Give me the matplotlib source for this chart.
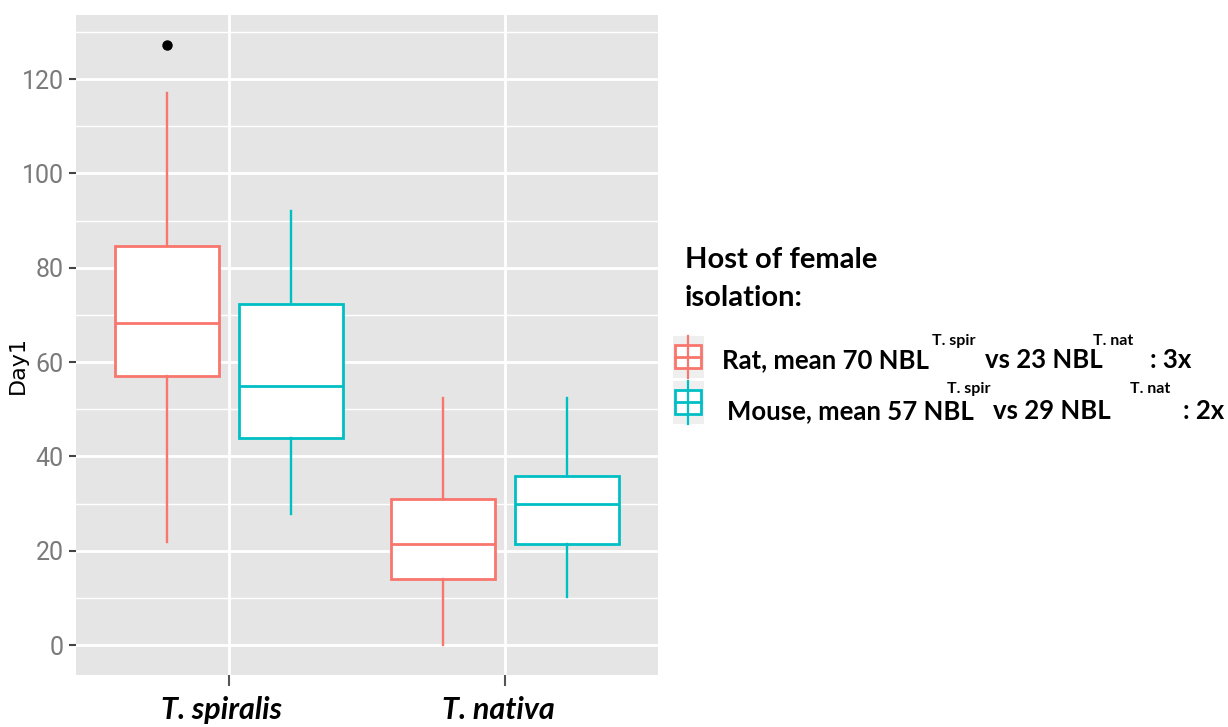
import numpy as np
import matplotlib
matplotlib.use("Agg")
import matplotlib.pyplot as plt
import matplotlib.transforms as mtransforms
from matplotlib.patches import Rectangle
from matplotlib.lines import Line2D

# ---------------- data ----------------
species = ["T. spiralis", "T. nativa"]
hosts = ["Rat", "Mouse"]
rat_whislo = [21.8, 0.0]
rat_q1 = [57.1, 14.0]
rat_med = [68.3, 21.4]
rat_q3 = [84.7, 31.0]
rat_whishi = [117.1, 52.4]
rat_fliers = [[127.2], []]
mouse_whislo = [27.8, 10.2]
mouse_q1 = [43.9, 21.4]
mouse_med = [54.9, 29.9]
mouse_q3 = [72.3, 35.8]
mouse_whishi = [92.0, 52.4]
mouse_fliers = [[], []]
yticks = [0, 20, 40, 60, 80, 100, 120]
legend_title = "Host of female\nisolation:"
rat_label = ["Rat, mean 70 NBL", "T. spir", "vs 23 NBL", "T. nat", ": 3x"]
mouse_label = ["Mouse, mean 57 NBL", "T. spir", "vs 29 NBL", "T. nat", ": 2x"]

RAT = "#F8766D"
MOUSE = "#00BFC4"
W, H = 1228, 727
TXT = ["Lato", "DejaVu Sans"]

fig = plt.figure(figsize=(W / 100, H / 100), dpi=100)
ax = fig.add_axes([76 / W, 1 - 675 / H, (658 - 76) / W, (675 - 15) / H])
ax.set_facecolor("#E5E5E5")

def stats(lo, q1, med, q3, hi, fl):
    return [dict(whislo=a, q1=b, med=c, q3=d, whishi=e, fliers=f)
            for a, b, c, d, e, f in zip(lo, q1, med, q3, hi, fl)]

xpos = np.arange(1, len(species) + 1)
off = 0.225
bw = 0.375
for st, col, sign in [
    (stats(rat_whislo, rat_q1, rat_med, rat_q3, rat_whishi, rat_fliers), RAT, -1),
    (stats(mouse_whislo, mouse_q1, mouse_med, mouse_q3, mouse_whishi, mouse_fliers), MOUSE, 1),
]:
    ax.bxp(st, positions=xpos + sign * off, widths=bw, patch_artist=True,
           showcaps=False, manage_ticks=False,
           boxprops=dict(facecolor="white", edgecolor=col, linewidth=2.0),
           medianprops=dict(color=col, linewidth=2.0),
           whiskerprops=dict(color=col, linewidth=1.7),
           flierprops=dict(marker="o", markerfacecolor="black", markeredgecolor="black",
                           markersize=6.5))

ax.set_xlim(0.446, 2.554)
ax.set_ylim(-6.36, 133.6)
ax.set_yticks(yticks)
ax.set_yticks(np.arange(10, 131, 20), minor=True)
ax.set_xticks(xpos)
ax.grid(True, which="major", color="white", linewidth=2.0)
ax.grid(True, which="minor", axis="y", color="white", linewidth=1.0)
ax.set_axisbelow(True)
for s in ax.spines.values():
    s.set_visible(False)

ax.tick_params(axis="y", which="major", length=5, width=1.5, color="#444444",
               labelcolor="#7a7a7a", labelsize=18, pad=4)
ax.tick_params(axis="y", which="minor", length=0)
ax.tick_params(axis="x", length=8, width=1.5, color="#555555", pad=7)
for lab in ax.get_yticklabels():
    lab.set_family(["Liberation Sans Narrow", "Roboto", "DejaVu Sans"])
ax.set_xticklabels(species, fontsize=22, fontweight="bold", fontstyle="italic",
                   family=TXT, color="black")
shift = mtransforms.ScaledTranslation(-7 / 100, 0, fig.dpi_scale_trans)
for lab in ax.get_xticklabels():
    lab.set_transform(lab.get_transform() + shift)
ax.set_ylabel("Day1", fontsize=16, color="black", family=["DejaVu Sans"])
ax.yaxis.set_label_coords((28 - 76) / 582, (675 - 365) / 660)

# ---------------- legend (annotation drawn in figure pixel space) ----------------
def fx(x):
    return x / W

def fy(y):
    return 1 - y / H

fig.text(fx(685), fy(268), legend_title.split("\n")[0], fontsize=21, fontweight="bold",
         family=TXT, va="baseline")
fig.text(fx(685), fy(306), legend_title.split("\n")[1], fontsize=21, fontweight="bold",
         family=TXT, va="baseline")

def key(ytop, ybot, col):
    fig.add_artist(Rectangle((fx(673), fy(ybot)), fx(704) - fx(673), fy(ytop) - fy(ybot),
                             transform=fig.transFigure, facecolor="#EFEFEF", edgecolor="none"))
    bt = ytop + 9
    bb = ybot - 10
    fig.add_artist(Line2D([fx(688), fx(688)], [fy(ytop), fy(ybot)], transform=fig.transFigure,
                          color=col, linewidth=1.6))
    fig.add_artist(Rectangle((fx(675), fy(bb)), fx(701) - fx(675), fy(bt) - fy(bb),
                             transform=fig.transFigure, facecolor="white", edgecolor=col,
                             linewidth=2.0))
    fig.add_artist(Line2D([fx(675), fx(701)], [fy((bt + bb) / 2)] * 2, transform=fig.transFigure,
                          color=col, linewidth=2.0))

key(336, 378, RAT)
key(381, 424, MOUSE)

def entry(parts, xs, base, sup_base):
    for i, (t, x) in enumerate(zip(parts, xs)):
        sup = i in (1, 3)
        fig.text(fx(x), fy(sup_base if sup else base), t,
                 fontsize=11.5 if sup else 18.5, fontweight="bold",
                 family=TXT, va="baseline")

entry(rat_label, [722, 932, 985, 1093, 1150], 368, 345)
entry(mouse_label, [727, 947, 993, 1130, 1183], 419, 393)

fig.savefig("out.png", dpi=100, facecolor="white")
